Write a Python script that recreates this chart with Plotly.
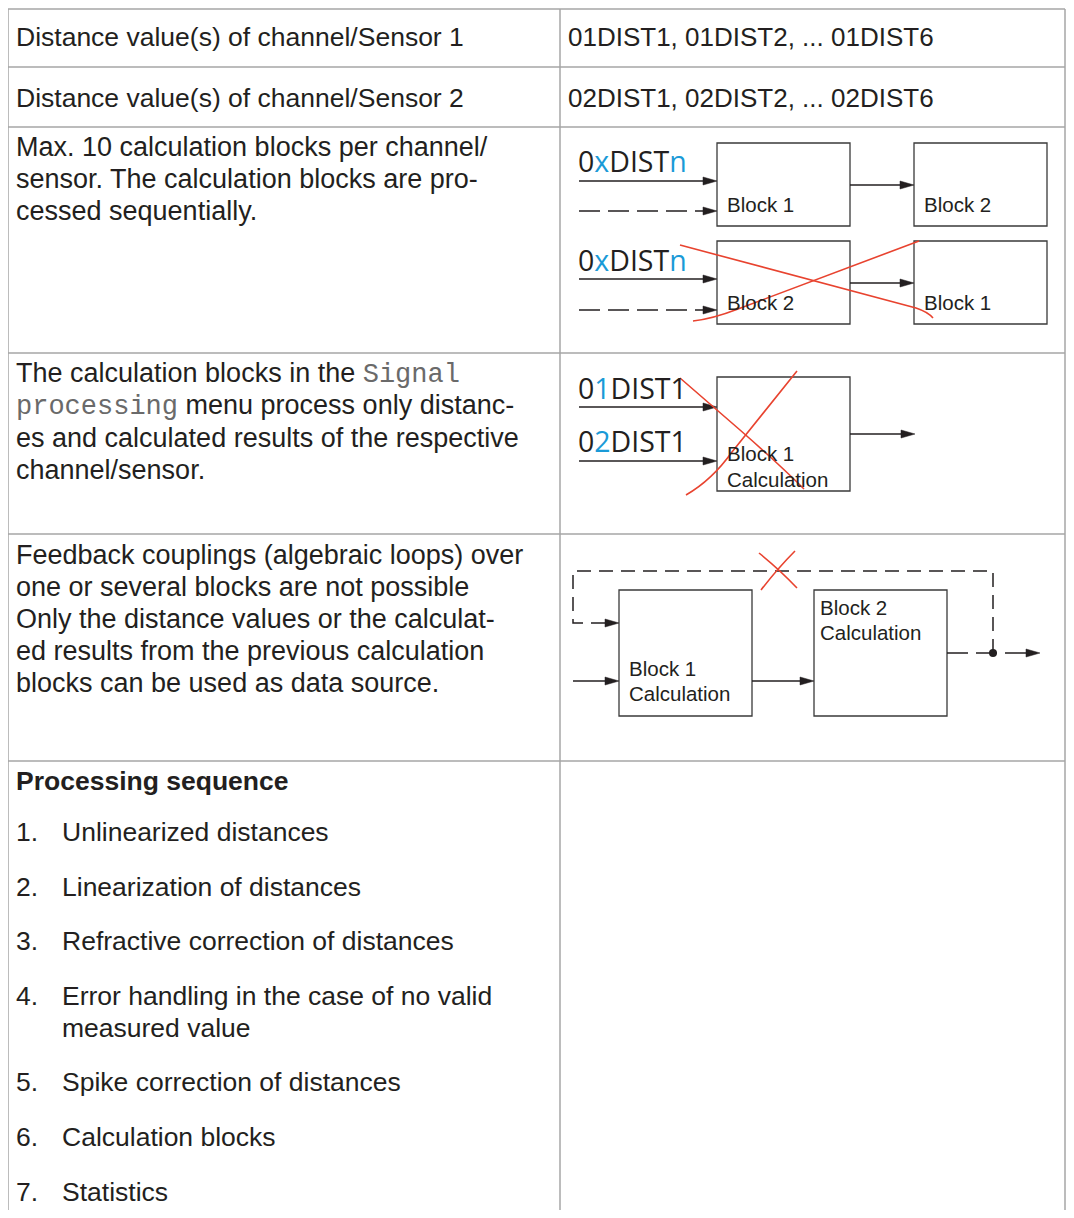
import plotly.graph_objects as go

# The page places the figure 8 px in from the top-left corner, so the axes
# are set up in page-pixel coordinates starting at that offset.
PAGE_W, PAGE_H = 1074, 1218
OFF = 8
FIG_W, FIG_H = PAGE_W - 2 * OFF, PAGE_H - 2 * OFF

INK = "#231f20"
GRID = "#a6a6a6"
BLUE = "#1a9ad7"
RED = "#e8432f"
BODY_FONT = "Liberation Sans, Arial, Helvetica, sans-serif"
MONO_FONT = "Liberation Mono, Courier New, monospace"
DIAG_FONT = "Open Sans, Noto Sans, sans-serif"
BODY_SIZE = 26.5
NOTE_SIZE = 27
RIGHT_SIZE = 26

# ---------------- table content ----------------
row_edges = [9, 67, 127, 353, 534, 761, 1218]
col_edges = [8, 560, 1065]

row1_left = "Distance value(s) of channel/Sensor 1"
row1_right = "01DIST1, 01DIST2, ... 01DIST6"
row2_left = "Distance value(s) of channel/Sensor 2"
row2_right = "02DIST1, 02DIST2, ... 02DIST6"

row3_lines = [
    "Max. 10 calculation blocks per channel/",
    "sensor. The calculation blocks are pro-",
    "cessed sequentially.",
]
MONO = "<span style='font-family:" + MONO_FONT + ";color:#6a6a6a'>{}</span>"
row4_lines = [
    "The calculation blocks in the " + MONO.format("Signal"),
    MONO.format("processing") + " menu process only distanc-",
    "es and calculated results of the respective",
    "channel/sensor.",
]
row5_lines = [
    "Feedback couplings (algebraic loops) over",
    "one or several blocks are not possible",
    "Only the distance values or the calculat-",
    "ed results from the previous calculation",
    "blocks can be used as data source.",
]
seq_title = "Processing sequence"
seq_numbers = ["1.", "2.", "3.", "4.", "", "5.", "6.", "7."]
seq_items = [
    "Unlinearized distances",
    "Linearization of distances",
    "Refractive correction of distances",
    "Error handling in the case of no valid",
    "measured value",
    "Spike correction of distances",
    "Calculation blocks",
    "Statistics",
]

# text line positions (pixel rows)
row1_y = 37
row2_y = 98
row3_y = [147, 179, 211]
row4_y = [374, 406, 438, 470]
row5_y = [555, 587, 619, 651, 683]
seq_title_y = 781
seq_y = [832, 887, 941, 996, 1028, 1082, 1137, 1192]

# ---------------- diagram content ----------------
def blue(s):
    return "<span style='color:" + BLUE + "'>" + s + "</span>"

signal_labels = ["0" + blue("x") + "DIST" + blue("n"), "0" + blue("x") + "DIST" + blue("n"),
                 "0" + blue("1") + "DIST1", "0" + blue("2") + "DIST1"]
signal_label_pos = [(577, 161), (577, 260), (577, 388), (577, 441)]

# boxes: (x0, y0, x1, y1)
boxes = [
    (717, 143, 850, 226), (914, 143, 1047, 226),
    (717, 241, 850, 324), (914, 241, 1047, 324),
    (717, 377, 850, 491),
    (619, 590, 752, 716), (814, 590, 947, 716),
]
box_labels = [
    ["Block 1"], ["Block 2"], ["Block 2"], ["Block 1"],
    ["Block 1", "Calculation"],
    ["Block 1", "Calculation"], ["Block 2", "Calculation"],
]
box_label_pos = [
    (726, [204]), (923, [204]), (726, [302]), (923, [302]),
    (726, [453, 479]),
    (628, [668, 693]), (819, [607, 632]),
]

# arrows: (x0, y0, x1, y1, dashed)
arrows = [
    (579, 181, 717, 181, False), (579, 211, 717, 211, True), (850, 185, 914, 185, False),
    (579, 279, 717, 279, False), (579, 310, 717, 310, True), (850, 283, 914, 283, False),
    (579, 407, 717, 407, False), (579, 461, 717, 461, False), (850, 434, 915, 434, False),
    (573, 681, 619, 681, False), (752, 681, 814, 681, False),
    (947, 653, 1040, 653, True),
]
feedback_path = "M 993,653 L 993,571 L 573,571 L 573,623 L 607,623"
feedback_tip = (619, 623)
junction = (993, 653)

red_strokes = [
    "M 680,245 L 916,308 Q 928,312 933,318",
    "M 693,321 Q 712,319 738,309 L 919,241",
    "M 680,378 L 740,430 Q 780,465 804,489",
    "M 686,495 Q 712,480 732,452 L 797,371",
    "M 759,553 Q 780,570 797,588",
    "M 795,551 Q 778,568 761,590",
]

# ---------------- build figure ----------------
shapes = []
annotations = []


def text(x, y, s, size=BODY_SIZE, family=BODY_FONT, color=INK):
    annotations.append(dict(
        x=x, y=y, xref="x", yref="y", text=s, showarrow=False,
        xanchor="left", yanchor="middle", align="left",
        font=dict(family=family, size=size, color=color), borderpad=0,
    ))


def seg(x0, y0, x1, y1, color=INK, width=1.5, dash="solid"):
    shapes.append(dict(type="line", x0=x0, y0=y0, x1=x1, y1=y1, xref="x", yref="y",
                       line=dict(color=color, width=width, dash=dash)))


def head(x, y, L=14, h=4):
    shapes.append(dict(type="path", xref="x", yref="y",
                       path=f"M {x - L},{y - h} L {x},{y} L {x - L},{y + h} Z",
                       fillcolor=INK, line=dict(color=INK, width=0.5)))


# table grid
for yv in row_edges[:-1]:
    seg(col_edges[0], yv, col_edges[-1], yv, color=GRID, width=1.5)
for xv in col_edges:
    seg(xv, row_edges[0], xv, row_edges[-1], color=GRID, width=1.5)

TX_L = col_edges[0] + 7
TX_R = col_edges[1] + 7

text(TX_L, row1_y, row1_left)
text(TX_R, row1_y, row1_right, size=RIGHT_SIZE)
text(TX_L, row2_y, row2_left)
text(TX_R, row2_y, row2_right, size=RIGHT_SIZE)
for s, yv in zip(row3_lines, row3_y):
    text(TX_L, yv, s, size=NOTE_SIZE)
for s, yv in zip(row4_lines, row4_y):
    text(TX_L, yv, s, size=NOTE_SIZE)
for s, yv in zip(row5_lines, row5_y):
    text(TX_L, yv, s, size=NOTE_SIZE)
text(TX_L, seq_title_y, "<b>" + seq_title + "</b>")
for n, s, yv in zip(seq_numbers, seq_items, seq_y):
    if n:
        text(TX_L, yv, n)
    text(TX_L + 46, yv, s)

# diagrams
for (x0, y0, x1, y1) in boxes:
    shapes.append(dict(type="rect", x0=x0, y0=y0, x1=x1, y1=y1, xref="x", yref="y",
                       line=dict(color="#3a3a3a", width=1.3), fillcolor="rgba(0,0,0,0)"))
for lines, (bx, ys) in zip(box_labels, box_label_pos):
    for s, yv in zip(lines, ys):
        text(bx, yv, s, size=20.5)
for s, (lx, ly) in zip(signal_labels, signal_label_pos):
    text(lx, ly, s, size=28.5, family=DIAG_FONT, color=INK)

for (x0, y0, x1, y1, dashed) in arrows:
    seg(x0, y0, x1 - 12, y1, dash="21px,8px" if dashed else "solid")
    head(x1, y1)

shapes.append(dict(type="path", path=feedback_path, xref="x", yref="y",
                   line=dict(color=INK, width=1.5, dash="14px,8px")))
head(*feedback_tip)
shapes.append(dict(type="circle", xref="x", yref="y",
                   x0=junction[0] - 4, y0=junction[1] - 4, x1=junction[0] + 4, y1=junction[1] + 4,
                   fillcolor=INK, line=dict(color=INK, width=0)))

for p in red_strokes:
    shapes.append(dict(type="path", path=p, xref="x", yref="y",
                       line=dict(color=RED, width=1.6)))

fig = go.Figure()
fig.update_layout(
    width=FIG_W, height=FIG_H, margin=dict(l=0, r=0, t=0, b=0),
    paper_bgcolor="white", plot_bgcolor="white",
    xaxis=dict(range=[OFF, OFF + FIG_W], visible=False, fixedrange=True),
    yaxis=dict(range=[OFF + FIG_H, OFF], visible=False, fixedrange=True),
    shapes=shapes, annotations=annotations, showlegend=False,
)
fig.write_html("out.html")
